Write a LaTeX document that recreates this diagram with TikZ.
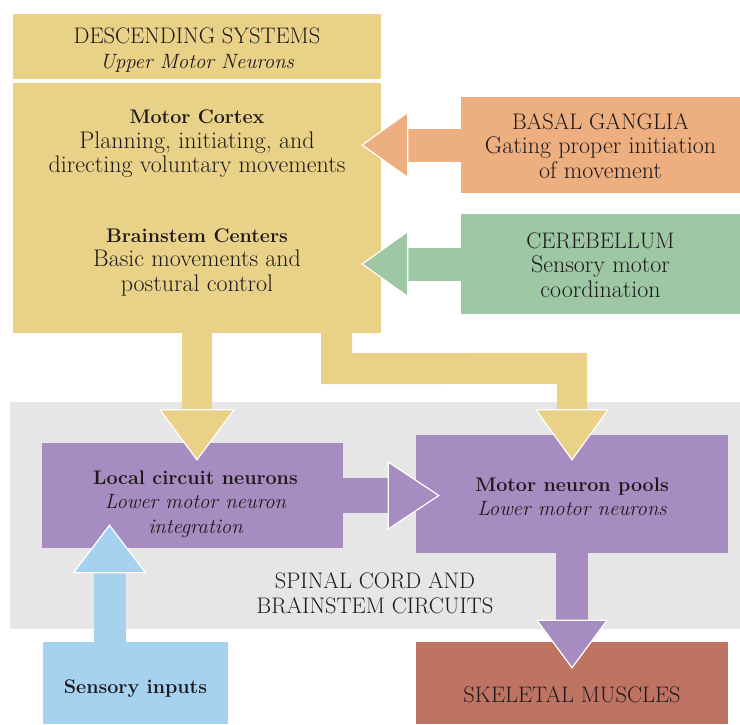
\documentclass[tikz,border=0pt]{standalone}
\usetikzlibrary{calc}
\definecolor{yel}{RGB}{233,209,136}
\definecolor{orng}{RGB}{237,174,128}
\definecolor{grn}{RGB}{158,199,164}
\definecolor{purp}{RGB}{166,140,192}
\definecolor{blu}{RGB}{166,210,240}
\definecolor{brick}{RGB}{191,116,99}
\definecolor{cordgray}{RGB}{230,230,230}
\definecolor{txt}{RGB}{30,26,27}
\newcommand{\titleline}[1]{{\fontsize{19.7}{24.5}\selectfont\bfseries #1}}
\newcommand{\noteline}[1]{{\fontsize{20.7}{24.5}\selectfont\itshape #1}}
\newcommand{\capsline}[1]{{\fontsize{22.5}{24.5}\selectfont #1}}
\tikzset{
  box/.style = {fill=#1, inner sep=0pt},
  label/.style = {inner sep=0pt, align=center, text=txt,
                  font=\fontsize{24}{24.5}\selectfont},
  head/.style = {fill=#1, draw=white, line width=1.2pt, line join=miter}
}

\begin{document}
\begin{tikzpicture}[x=1pt,y=-1pt]
  \useasboundingbox (0,0) rectangle (740,724);
  % spinal cord region
  \fill[cordgray] (10,402) rectangle (740,629);
  \node[label] (spinal) at (375,593) {\capsline{SPINAL CORD AND}\\\capsline{BRAINSTEM CIRCUITS}};

  % descending systems
  \node[box=yel,minimum width=368pt,minimum height=65pt] (desc) at (197,46.5) {};
  \node[label] (desctext) at ($(desc)+(0,3.5)$)
    {\capsline{DESCENDING SYSTEMS}\\\noteline{Upper Motor Neurons}};
  \node[box=yel,minimum width=368pt,minimum height=250pt] (main) at (197,208) {};
  \node[label] (cortex) at (197,144)
    {\titleline{Motor Cortex}\\Planning, initiating, and\\directing voluntary movements};
  \node[label] (stem) at (197,262)
    {\titleline{Brainstem Centers}\\Basic movements and\\postural control};

  % side inputs
  \node[box=orng,minimum width=279pt,minimum height=96pt] (basal) at (600.5,145) {};
  \node[label] (basaltext) at ($(basal)+(0,1)$)
    {\capsline{BASAL GANGLIA}\\Gating proper initiation\\of movement};
  \node[box=grn,minimum width=279pt,minimum height=100pt] (cereb) at (600.5,264) {};
  \node[label] (cerebtext) at ($(cereb)+(0,1)$)
    {\capsline{CEREBELLUM}\\Sensory motor\\coordination};

  % spinal circuits
  \node[box=purp,minimum width=301pt,minimum height=105pt] (local) at (192.5,495.5) {};
  \node[label] (localtext) at ($(local)+(3,8.5)$)
    {\titleline{Local circuit neurons}\\\noteline{Lower motor neuron}\\\noteline{integration}};
  \node[box=purp,minimum width=312pt,minimum height=118pt] (pools) at (572,494) {};
  \node[label] (poolstext) at ($(pools)+(0,3)$)
    {\titleline{Motor neuron pools}\\\noteline{Lower motor neurons}};
  \node[box=blu,minimum width=185pt,minimum height=82pt] (sens) at (135.5,683) {};
  \node[label] (senstext) at ($(sens)+(0,6)$) {\titleline{Sensory inputs}};
  \node[box=brick,minimum width=312pt,minimum height=82pt] (skel) at (572,683) {};
  \node[label] (skeltext) at ($(skel)+(0,12)$) {\capsline{SKELETAL MUSCLES}};

  % basal ganglia -> cortex
  \fill[orng] ($(basal.west)+(1,-16.5)$) rectangle ($(basal.west)+(-55,16.5)$);
  \filldraw[head=orng] ($(basal.west)+(-53,-32.5)$) -- ($(basal.west)+(-53,32.5)$)
    -- ($(main.east |- basal.west)+(-19,0)$) -- cycle;
  % cerebellum -> brainstem
  \fill[grn] ($(cereb.west)+(1,-16.5)$) rectangle ($(cereb.west)+(-55,16.5)$);
  \filldraw[head=grn] ($(cereb.west)+(-53,-32.5)$) -- ($(cereb.west)+(-53,32.5)$)
    -- ($(main.east |- cereb.west)+(-19,0)$) -- cycle;

  % descending -> local circuits
  \fill[yel] ($(main.south)+(-15,-1)$) rectangle ($(main.south)+(15,79)$);
  \filldraw[head=yel] ($(main.south |- local.north)+(-37,-33)$)
    -- ($(main.south |- local.north)+(37,-33)$)
    -- ($(main.south |- local.north)+(0,17)$) -- cycle;
  % descending -> motor neuron pools
  \fill[yel] ($(main.south east)+(-60,-1)$) -- ($(main.south east)+(-60,51)$)
    -- ($(pools.north)+(-15,-51)$) -- ($(pools.north)+(-15,-23)$)
    -- ($(pools.north)+(15,-23)$) -- ($(pools.north)+(15,-82)$)
    -- ($(main.south east)+(-29,20)$) -- ($(main.south east)+(-29,-1)$) -- cycle;
  \filldraw[head=yel] ($(pools.north)+(-36,-25)$) -- ($(pools.north)+(36,-25)$)
    -- ($(pools.north)+(0,25)$) -- cycle;

  % local circuits -> pools
  \fill[purp] ($(local.east)+(-1,-17.5)$) rectangle ($(local.east)+(47,17.5)$);
  \filldraw[head=purp] ($(local.east)+(45,-33.5)$) -- ($(local.east)+(45,33.5)$)
    -- ($(pools.west |- local.east)+(23,0)$) -- cycle;
  % pools -> muscles
  \fill[purp] ($(pools.south)+(-16,-1)$) rectangle ($(pools.south)+(16,69)$);
  \filldraw[head=purp] ($(pools.south)+(-35,67)$) -- ($(pools.south)+(35,67)$)
    -- ($(skel.north)+(0,26)$) -- cycle;
  % sensory -> local circuits
  \fill[blu] ($(sens.north)+(-42,1)$) rectangle ($(sens.north)+(-10,-71)$);
  \filldraw[head=blu] ($(sens.north)+(-62,-69)$) -- ($(sens.north)+(10,-69)$)
    -- ($(sens.north |- local.south)+(-26,-23)$) -- cycle;
\end{tikzpicture}
\end{document}
